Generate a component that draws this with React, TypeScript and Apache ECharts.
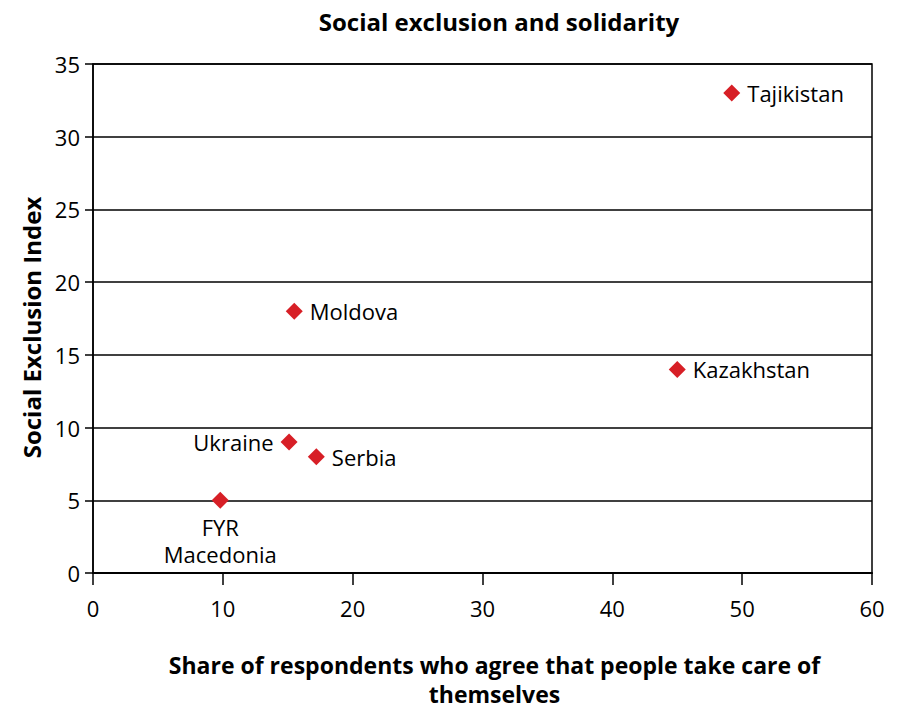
import React, { useEffect, useRef } from "react";
import * as echarts from "echarts";

const countries = ["Tajikistan", "Moldova", "Kazakhstan", "Ukraine", "Serbia", "FYR\nMacedonia"];
const shareValues = [49.2, 15.5, 45.0, 15.1, 17.2, 9.8];
const exclusionValues = [33, 18, 14, 9, 8, 5];
const labelPositions = ["right", "right", "right", "left", "right", "bottom"];

const FONT = "'Open Sans', 'Noto Sans', sans-serif";

export default function App() {
  const ref = useRef<HTMLDivElement>(null);
  useEffect(() => {
    if (!ref.current) return;
    const chart = echarts.init(ref.current, null, { renderer: "svg" });
    const data = countries.map((c, i) => ({
      value: [shareValues[i], exclusionValues[i]],
      name: c,
      label: {
        position: labelPositions[i],
        distance: labelPositions[i] === "bottom" ? 5 : 7,
      },
    }));
    chart.setOption({
      animation: false,
      backgroundColor: "#ffffff",
      textStyle: { fontFamily: FONT },
      title: {
        text: "Social exclusion and solidarity",
        left: 494,
        textAlign: "center",
        top: 4,
        textStyle: { fontFamily: FONT, fontSize: 24, fontWeight: "bold", color: "#000" },
      },
      grid: {
        left: 93,
        width: 779,
        top: 64,
        height: 509,
        outerBoundsMode: "none",
        containLabel: false,
        show: true,
        borderColor: "#000",
        borderWidth: 1.5,
        backgroundColor: "transparent",
      },
      xAxis: {
        type: "value",
        min: 0,
        max: 60,
        interval: 10,
        name: "Share of respondents who agree that people take care of\nthemselves",
        nameLocation: "middle",
        nameGap: 77,
        nameTextStyle: {
          fontFamily: FONT,
          fontSize: 23,
          fontWeight: "bold",
          color: "#000",
          lineHeight: 29,
          padding: [0, 0, 0, 24],
        },
        axisLine: { show: true, lineStyle: { color: "#000", width: 2 } },
        axisTick: { show: true, length: 12, lineStyle: { color: "#000", width: 1.5 } },
        axisLabel: { fontFamily: FONT, fontSize: 22, color: "#000", margin: 24 },
        splitLine: { show: false },
      },
      yAxis: {
        type: "value",
        min: 0,
        max: 35,
        interval: 5,
        name: "Social Exclusion Index",
        nameLocation: "middle",
        nameGap: 49,
        nameTextStyle: {
          fontFamily: FONT,
          fontSize: 24,
          fontWeight: "bold",
          color: "#000",
          padding: [0, 18, 0, 0],
        },
        axisLine: { show: true, lineStyle: { color: "#000", width: 1.5 } },
        axisTick: { show: true, length: 8, lineStyle: { color: "#000", width: 1.5 } },
        axisLabel: { fontFamily: FONT, fontSize: 22, color: "#000", margin: 13 },
        splitLine: { show: true, lineStyle: { color: "#000", width: 1.5 } },
      },
      series: [
        {
          type: "scatter",
          symbol: "diamond",
          symbolSize: 17,
          itemStyle: { color: "#d71f26", opacity: 1 },
          data,
          label: {
            show: true,
            formatter: (p: any) => p.name,
            fontFamily: FONT,
            fontSize: 22,
            color: "#000",
            opacity: 1,
            lineHeight: 27,
          },
        },
      ],
    });
    return () => chart.dispose();
  }, []);
  return (
    <div
      ref={ref}
      style={{ position: "fixed", left: 0, top: 0, width: 900, height: 709 }}
    />
  );
}
